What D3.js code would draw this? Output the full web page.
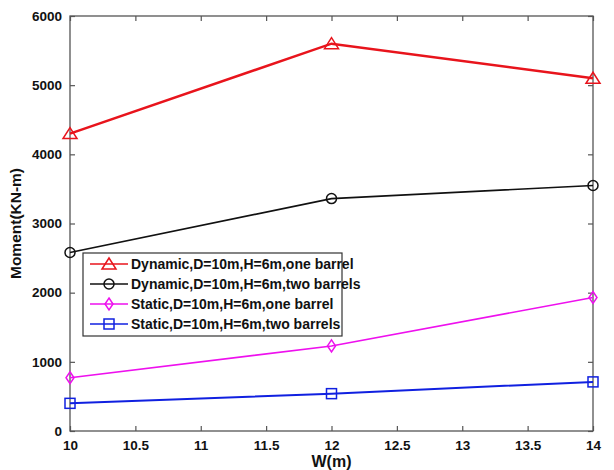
<!DOCTYPE html>
<meta charset="utf-8">
<html>
<head>
<script src="https://cdn.jsdelivr.net/npm/d3@7"></script>
<style>
  body { margin: 0; background: #fff; }
  text { font-family: "Liberation Sans", Arial, sans-serif; font-weight: bold; }
</style>
</head>
<body>
<div id="chart"></div>
<script>
  var widths = [10, 12, 14];
  var dynOne = [4300, 5600, 5100];
  var dynTwo = [2580, 3360, 3550];
  var statOne = [770, 1230, 1930];
  var statTwo = [400, 540, 710];
  var xTicks = [10, 10.5, 11, 11.5, 12, 12.5, 13, 13.5, 14];
  var yTicks = [0, 1000, 2000, 3000, 4000, 5000, 6000];
  var names = ["Dynamic,D=10m,H=6m,one barrel", "Dynamic,D=10m,H=6m,two barrels",
               "Static,D=10m,H=6m,one barrel", "Static,D=10m,H=6m,two barrels"];

  var W = 614, H = 470;
  var margin = {top: 16, right: 21, bottom: 39, left: 70};
  var width = W - margin.left - margin.right,
      height = H - margin.top - margin.bottom;

  var svg = d3.select("#chart").append("svg")
      .attr("width", W).attr("height", H);
  var g = svg.append("g")
      .attr("transform", "translate(" + margin.left + "," + margin.top + ")");

  var x = d3.scaleLinear().domain([10, 14]).range([0, width]);
  var y = d3.scaleLinear().domain([0, 6000]).range([height, 0]);

  // frame
  g.append("rect").attr("width", width).attr("height", height)
      .attr("fill", "none").attr("stroke", "#555").attr("stroke-width", 1.3);

  // axes, ticks pointing inward
  var xAxis = g.append("g").attr("transform", "translate(0," + height + ")")
      .call(d3.axisBottom(x).tickValues(xTicks).tickSize(-5).tickPadding(9)
            .tickFormat(function(d){ return d; }));
  var xTop = g.append("g")
      .call(d3.axisTop(x).tickValues(xTicks).tickSize(-5).tickFormat(""));
  var yAxis = g.append("g")
      .call(d3.axisLeft(y).tickValues(yTicks).tickSize(-5).tickPadding(8)
            .tickFormat(d3.format("d")));
  var yRight = g.append("g").attr("transform", "translate(" + width + ",0)")
      .call(d3.axisRight(y).tickValues(yTicks).tickSize(-5).tickFormat(""));
  [xAxis, xTop, yAxis, yRight].forEach(function(a){
    a.select(".domain").remove();
    a.selectAll("line").attr("stroke", "#555").attr("stroke-width", 1.2);
    a.selectAll("text").attr("font-size", "13.5px").attr("fill", "#111")
      .attr("font-family", "Liberation Sans, Arial, sans-serif").attr("font-weight", "bold");
  });

  // axis labels
  g.append("text").attr("x", width / 2).attr("y", height + 36)
      .attr("text-anchor", "middle").attr("font-size", "16px").attr("fill", "#111")
      .text("W(m)");
  g.append("text").attr("transform", "rotate(-90)")
      .attr("x", -height / 2).attr("y", -49)
      .attr("text-anchor", "middle").attr("font-size", "15.5px").attr("fill", "#111")
      .text("Moment(KN-m)");

  var series = [
    {vals: dynOne, color: "#e8141c", sw: 2.5, marker: "triangle"},
    {vals: dynTwo, color: "#111", sw: 1.6, marker: "circle"},
    {vals: statOne, color: "#ee10ee", sw: 1.6, marker: "diamond"},
    {vals: statTwo, color: "#1020e0", sw: 2, marker: "square"}
  ];

  function drawMarker(sel, type, color, cx, cy) {
    if (type === "triangle") {
      sel.append("path").attr("d", "M" + cx + "," + (cy - 6) + "L" + (cx + 7) + "," + (cy + 5) + "L" + (cx - 7) + "," + (cy + 5) + "Z")
        .attr("fill", "none").attr("stroke", color).attr("stroke-width", 1.5);
    } else if (type === "circle") {
      sel.append("circle").attr("cx", cx).attr("cy", cy).attr("r", 5)
        .attr("fill", "none").attr("stroke", color).attr("stroke-width", 1.5);
    } else if (type === "diamond") {
      sel.append("path").attr("d", "M" + cx + "," + (cy - 6) + "L" + (cx + 4) + "," + cy + "L" + cx + "," + (cy + 6) + "L" + (cx - 4) + "," + cy + "Z")
        .attr("fill", "none").attr("stroke", color).attr("stroke-width", 1.5);
    } else {
      sel.append("rect").attr("x", cx - 5).attr("y", cy - 5).attr("width", 10).attr("height", 10)
        .attr("fill", "none").attr("stroke", color).attr("stroke-width", 1.5);
    }
  }

  var line = d3.line()
      .x(function(d, i){ return x(widths[i]); })
      .y(function(d){ return y(d); });

  series.forEach(function(s){
    g.append("path").datum(s.vals).attr("d", line)
      .attr("fill", "none").attr("stroke", s.color).attr("stroke-width", s.sw);
    s.vals.forEach(function(v, i){
      drawMarker(g, s.marker, s.color, x(widths[i]), y(v));
    });
  });

  // legend
  var lg = svg.append("g").attr("transform", "translate(83,253)");
  lg.append("rect").attr("width", 259).attr("height", 83)
    .attr("fill", "#fff").attr("stroke", "#333").attr("stroke-width", 1.2);
  series.forEach(function(s, i){
    var yy = 11 + i * 20;
    lg.append("line").attr("x1", 7).attr("x2", 45).attr("y1", yy).attr("y2", yy)
      .attr("stroke", s.color).attr("stroke-width", 1.6);
    drawMarker(lg, s.marker, s.color, 26, yy);
    lg.append("text").attr("x", 48).attr("y", yy + 5)
      .attr("font-size", "14px").attr("fill", "#111").text(names[i]);
  });
</script>
</body>
</html>
